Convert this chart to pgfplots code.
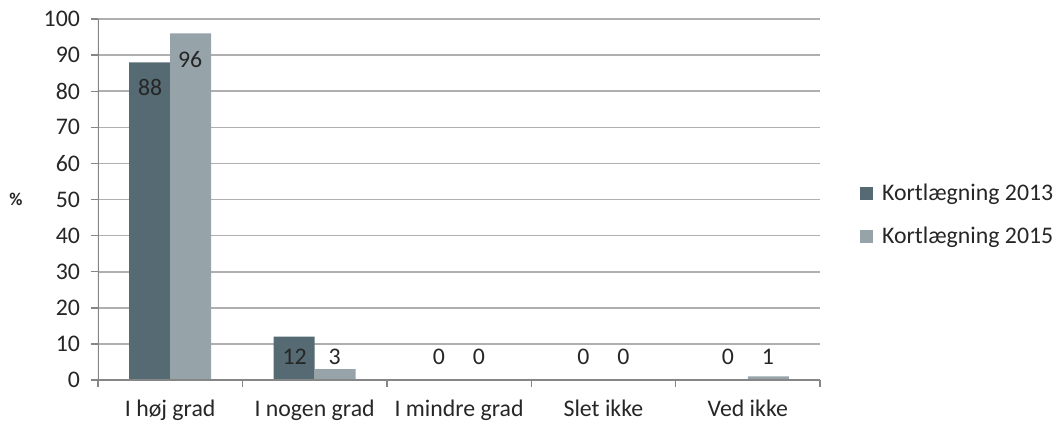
\documentclass[border=0pt]{standalone}
\usepackage{fontspec}
\setmainfont{Carlito}
\usepackage{pgfplots}
\pgfplotsset{compat=1.18}
\definecolor{dark13}{RGB}{86,106,115}
\definecolor{light15}{RGB}{150,163,168}
\definecolor{txt}{RGB}{38,38,38}
\definecolor{gridc}{RGB}{175,175,175}
\definecolor{axisc}{RGB}{134,134,134}

\begin{document}
\begin{tikzpicture}[font=\fontsize{11.9}{13.8}\selectfont, text=txt]
\begin{axis}[
  name=ax,
  scale only axis,
  width=361pt, height=180.5pt,
  xmin=-0.5, xmax=4.5,
  ymin=0, ymax=100,
  ytick={0,10,...,100},
  xtick={0,1,2,3,4},
  xticklabels={I høj grad, I nogen grad, I mindre grad, Slet ikke, Ved ikke},
  minor xtick={-0.5,0.5,1.5,2.5,3.5,4.5},
  major x tick style={draw=none},
  xtick pos=bottom, ytick pos=left,
  tick align=outside,
  major tick length=3.5pt,
  minor tick length=3.5pt,
  tick style={axisc, line width=0.7pt},
  axis line style={draw=none},
  ymajorgrids,
  grid style={gridc, line width=0.8pt},
  /pgf/number format/assume math mode=true,
  yticklabel style={xshift=-2pt},
  xticklabel style={yshift=-3pt},
  ylabel={\%},
  ylabel style={font=\fontsize{9}{11}\selectfont\bfseries, rotate=-90, at={(rel axis cs:0,0.5)}, anchor=center, xshift=-41pt},
  legend style={draw=none, fill=none, at={(rel axis cs:1.055,0.457)}, anchor=west,
    row sep=9pt, inner sep=0pt, nodes={inner sep=1.5pt}},
  legend cell align=left,
  legend image code/.code={\fill[#1] (0pt,-3.25pt) rectangle (6.5pt,3.25pt); \path (9.5pt,0pt);},
]
\addplot[ybar, bar width=20.5pt, bar shift=-10.25pt, fill=dark13, draw=none]
  coordinates {(0,88) (1,12) (2,0) (3,0) (4,0)};
\addlegendentry{Kortlægning 2013}
\addplot[ybar, bar width=20.5pt, bar shift=10.25pt, fill=light15, draw=none]
  coordinates {(0,96) (1,3) (2,0) (3,0) (4,1)};
\addlegendentry{Kortlægning 2015}
% data labels (Excel "inside end" placement)
\addplot[forget plot, draw=none, mark=none, nodes near coords, point meta=explicit symbolic,
  every node near coord/.style={anchor=center, text=txt}]
  coordinates {(-0.1385,80.9)[88] (0.8615,6.3)[12] (1.8615,6.3)[0] (2.8615,6.3)[0] (3.8615,6.3)[0]};
\addplot[forget plot, draw=none, mark=none, nodes near coords, point meta=explicit symbolic,
  every node near coord/.style={anchor=center, text=txt}]
  coordinates {(0.1385,88.7)[96] (1.1385,6.3)[3] (2.1385,6.3)[0] (3.1385,6.3)[0] (4.1385,6.3)[1]};
% axis lines: left and bottom only
\draw[axisc, line width=0.7pt] (rel axis cs:0,1) -- (rel axis cs:0,0) -- (rel axis cs:1,0);
\end{axis}
\pgfresetboundingbox
\path[use as bounding box] (-49pt,-22pt) rectangle (479.5pt,190pt);
\end{tikzpicture}
\end{document}
